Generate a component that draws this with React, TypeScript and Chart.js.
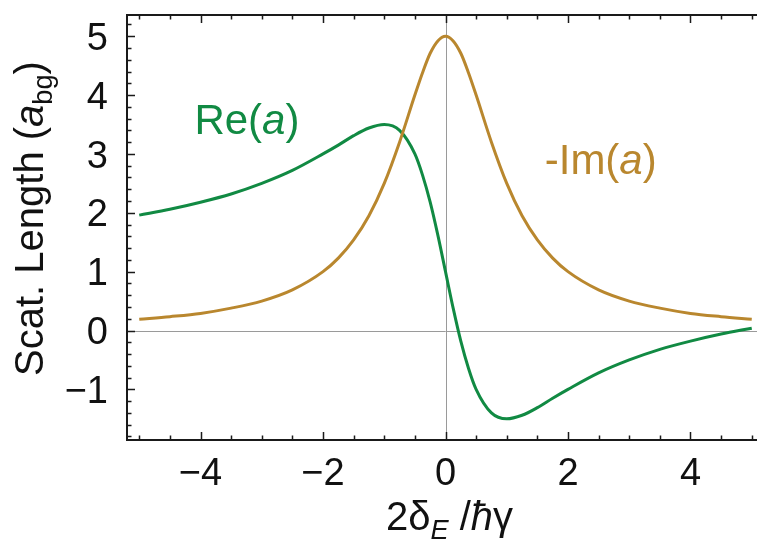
import React, { useEffect, useRef } from "react";
import { Chart, registerables } from "chart.js";

Chart.register(...registerables);

// ---- data ----
const detuning = [-5, -4.5, -4, -3.5, -3, -2.5, -2, -1.75, -1.5, -1.25, -1, -0.75, -0.5, -0.375, -0.25, -0.125, 0, 0.125, 0.25, 0.375, 0.5, 0.75, 1, 1.25, 1.5, 1.75, 2, 2.5, 3, 3.5, 4, 4.5, 5];
const reA = [1.96, 2.06, 2.18, 2.32, 2.5, 2.72, 3.0, 3.15, 3.31, 3.44, 3.5, 3.4, 3.0, 2.64, 2.18, 1.62, 1.0, 0.38, -0.18, -0.64, -1.0, -1.4, -1.5, -1.44, -1.31, -1.15, -1.0, -0.72, -0.5, -0.32, -0.18, -0.06, 0.04];
const negImA = [0.19, 0.235, 0.29, 0.38, 0.5, 0.69, 1.0, 1.23, 1.54, 1.95, 2.5, 3.2, 4.0, 4.38, 4.71, 4.92, 5.0, 4.92, 4.71, 4.38, 4.0, 3.2, 2.5, 1.95, 1.54, 1.23, 1.0, 0.69, 0.5, 0.38, 0.29, 0.235, 0.19];

const xMajorTicks = [-4, -2, 0, 2, 4];
const xMinorTicks = [-5, -4.5, -3.5, -3, -2.5, -1.5, -1, -0.5, 0.5, 1, 1.5, 2.5, 3, 3.5, 4.5, 5];
const yMajorTicks = [-1, 0, 1, 2, 3, 4, 5];
const yMinorTicks = [-1.8, -1.6, -1.4, -1.2, -0.8, -0.6, -0.4, -0.2, 0.2, 0.4, 0.6, 0.8, 1.2, 1.4, 1.6, 1.8, 2.2, 2.4, 2.6, 2.8, 3.2, 3.4, 3.6, 3.8, 4.2, 4.4, 4.6, 4.8, 5.2];

const xRange = [-5.2, 5.2];
const yRange = [-1.86, 5.36];

// annotation anchors (data coords: left edge, baseline)
const reLabelPos = [-4.1, 3.34];
const imLabelPos = [1.62, 2.66];

const GREEN = "#118A43";
const GOLD = "#B9872E";
const FONT = '"Liberation Sans", Arial, Helvetica, sans-serif';

type Seg = { t: string; it?: boolean; sub?: boolean };

function segFont(size: number, s: Seg) {
  const sz = s.sub ? size * 0.68 : size;
  return `${s.it ? "italic " : ""}${sz}px ${FONT}`;
}
function richWidth(ctx: CanvasRenderingContext2D, segs: Seg[], size: number) {
  let w = 0;
  for (const s of segs) {
    ctx.font = segFont(size, s);
    w += ctx.measureText(s.t).width;
  }
  return w;
}
function drawRich(ctx: CanvasRenderingContext2D, segs: Seg[], size: number, x: number, y: number) {
  let cx = x;
  ctx.textAlign = "left";
  ctx.textBaseline = "alphabetic";
  for (const s of segs) {
    ctx.font = segFont(size, s);
    ctx.fillText(s.t, cx, s.sub ? y + size * 0.22 : y);
    cx += ctx.measureText(s.t).width;
  }
}
const fmt = (v: number) => (v < 0 ? "\u2212" + Math.abs(v) : String(v));

const framePlugin = {
  id: "mmaFrame",
  beforeDatasetsDraw(chart: any) {
    const { ctx, chartArea: a, scales } = chart;
    const x0 = scales.x.getPixelForValue(0);
    const y0 = scales.y.getPixelForValue(0);
    ctx.save();
    ctx.strokeStyle = "#9a9a9a";
    ctx.lineWidth = 1;
    ctx.beginPath();
    ctx.moveTo(Math.round(x0) + 0.5, a.top);
    ctx.lineTo(Math.round(x0) + 0.5, a.bottom);
    ctx.moveTo(a.left, Math.round(y0) + 0.5);
    ctx.lineTo(a.right, Math.round(y0) + 0.5);
    ctx.stroke();
    ctx.restore();
  },
  afterDatasetsDraw(chart: any) {
    const { ctx, chartArea: a, scales } = chart;
    const sx = scales.x, sy = scales.y;
    ctx.save();
    // frame
    ctx.strokeStyle = "#1a1a1a";
    ctx.lineWidth = 2;
    ctx.beginPath();
    ctx.moveTo(a.left, a.top);
    ctx.lineTo(a.right, a.top);
    ctx.lineTo(a.right, a.bottom);
    ctx.lineTo(a.left, a.bottom);
    ctx.closePath();
    ctx.stroke();
    // ticks (inward, bottom/top/left)
    ctx.lineWidth = 1.5;
    ctx.beginPath();
    const xt = (v: number, len: number) => {
      const p = Math.round(sx.getPixelForValue(v)) + 0.5;
      ctx.moveTo(p, a.bottom);
      ctx.lineTo(p, a.bottom - len);
      ctx.moveTo(p, a.top);
      ctx.lineTo(p, a.top + len);
    };
    const yt = (v: number, len: number) => {
      const p = Math.round(sy.getPixelForValue(v)) + 0.5;
      ctx.moveTo(a.left, p);
      ctx.lineTo(a.left + len, p);
    };
    xMajorTicks.forEach((v) => xt(v, 8));
    xMinorTicks.forEach((v) => xt(v, 4.5));
    yMajorTicks.forEach((v) => yt(v, 8));
    yMinorTicks.forEach((v) => yt(v, 4.5));
    ctx.stroke();

    // tick labels
    ctx.fillStyle = "#111";
    const tickSize = 38;
    ctx.font = `${tickSize}px ${FONT}`;
    ctx.textBaseline = "alphabetic";
    ctx.textAlign = "center";
    xMajorTicks.forEach((v) => {
      ctx.fillText(fmt(v), sx.getPixelForValue(v), a.bottom + 45);
    });
    ctx.textAlign = "right";
    yMajorTicks.forEach((v) => {
      ctx.fillText(fmt(v), a.left - 19, sy.getPixelForValue(v) + tickSize * 0.36);
    });

    // axis titles
    const titleSize = 40;
    const xTitle: Seg[] = [{ t: "2\u03B4" }, { t: "E", it: true, sub: true }, { t: " /" }, { t: "\u0127", it: true }, { t: "\u03B3" }];
    const xw = richWidth(ctx, xTitle, titleSize);
    drawRich(ctx, xTitle, titleSize, (a.left + a.right) / 2 - xw / 2 + 4, a.bottom + 90);

    const yTitle: Seg[] = [{ t: "Scat. Length (" }, { t: "a", it: true }, { t: "bg", sub: true }, { t: ")" }];
    const yw = richWidth(ctx, yTitle, titleSize);
    ctx.save();
    ctx.translate(43, 218.5);
    ctx.rotate(-Math.PI / 2);
    drawRich(ctx, yTitle, titleSize, -yw / 2, 0);
    ctx.restore();

    // curve labels
    const labSize = 42;
    ctx.fillStyle = GREEN;
    drawRich(ctx, [{ t: "Re(" }, { t: "a", it: true }, { t: ")" }], labSize, sx.getPixelForValue(reLabelPos[0]), sy.getPixelForValue(reLabelPos[1]));
    ctx.fillStyle = GOLD;
    drawRich(ctx, [{ t: "-Im(" }, { t: "a", it: true }, { t: ")" }], labSize, sx.getPixelForValue(imLabelPos[0]), sy.getPixelForValue(imLabelPos[1]));
    ctx.restore();
  },
};

export default function App() {
  const ref = useRef<HTMLCanvasElement | null>(null);
  useEffect(() => {
    if (!ref.current) return;
    const chart = new Chart(ref.current, {
      type: "line",
      data: {
        datasets: [
          {
            label: "-Im(a)",
            data: detuning.map((x, i) => ({ x, y: negImA[i] })),
            borderColor: GOLD,
            borderWidth: 3,
            pointRadius: 0,
            cubicInterpolationMode: "monotone",
            fill: false,
          },
          {
            label: "Re(a)",
            data: detuning.map((x, i) => ({ x, y: reA[i] })),
            borderColor: GREEN,
            borderWidth: 3,
            pointRadius: 0,
            cubicInterpolationMode: "monotone",
            fill: false,
          },
        ],
      },
      options: {
        animation: false,
        responsive: false,
        devicePixelRatio: 1,
        layout: { padding: { left: 127, top: 15, right: 0, bottom: 108 } },
        plugins: { legend: { display: false }, tooltip: { enabled: false } },
        scales: {
          x: { type: "linear", min: xRange[0], max: xRange[1], display: false },
          y: { type: "linear", min: yRange[0], max: yRange[1], display: false },
        },
      },
      plugins: [framePlugin],
    });
    return () => chart.destroy();
  }, []);
  return (
    <div style={{ position: "fixed", left: 0, top: 0, width: 757, height: 548, overflow: "hidden", background: "#fff" }}>
      <canvas ref={ref} width={764} height={548} style={{ display: "block" }} />
    </div>
  );
}
